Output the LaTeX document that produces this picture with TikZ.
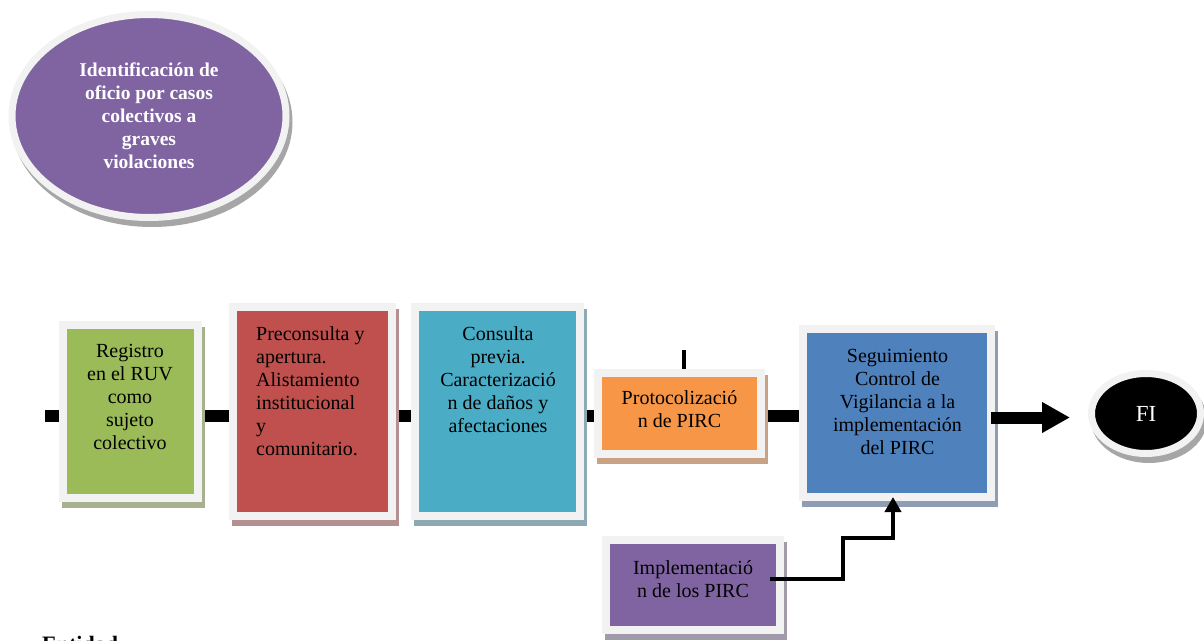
\documentclass[tikz,border=0pt]{standalone}
\usepackage{fontspec}
\setmainfont{Liberation Serif}
\usetikzlibrary{shapes.geometric,arrows.meta,backgrounds,calc}
\definecolor{framec}{HTML}{F2F2F2}
\definecolor{cgreen}{HTML}{9BBB59}\definecolor{sgreen}{HTML}{A7B18F}
\definecolor{cred}{HTML}{C0504D}\definecolor{sred}{HTML}{B59092}
\definecolor{cteal}{HTML}{4BACC6}\definecolor{steal}{HTML}{8DA9B3}
\definecolor{corange}{HTML}{F79646}\definecolor{sorange}{HTML}{C9A283}
\definecolor{cblue}{HTML}{4F81BD}\definecolor{sblue}{HTML}{8F9DB2}
\definecolor{cpurple}{HTML}{8064A2}\definecolor{spurple}{HTML}{A19AAB}
\definecolor{sgray}{HTML}{A6A6A6}
\tikzset{
  box/.style={rectangle, draw=framec, line width=8pt, inner sep=0pt, outer sep=0pt},
  ell/.style={ellipse, draw=framec, line width=7pt, inner sep=0pt, outer sep=0pt},
  shadowed/.style={preaction={fill=#1, draw=#1, transform canvas={shift={(3pt,-6pt)}}}},
  txt/.style={font=\fontsize{20}{23}\selectfont, align=center, inner sep=0pt, anchor=north},
  flow/.style={line width=12pt, draw=black},
  stepline/.style={line width=4pt, draw=black, -{Triangle[length=15pt,width=16pt]}},
}
\begin{document}
\begin{tikzpicture}[x=1pt,y=-1pt]
\useasboundingbox (0,0) rectangle (1204,640);
\clip (0,0) rectangle (1204,640);

% top ellipse
\node[ell, fill=cpurple, shadowed=sgray, minimum width=274pt, minimum height=203pt,
      text=white, align=center, font=\bfseries\fontsize{19.5}{23}\selectfont] (e1) at (149,116)
      {Identificación de\\oficio por casos\\colectivos a\\graves\\violaciones};

% boxes
\node[box, fill=cgreen, shadowed=sgreen, minimum width=135pt, minimum height=173pt] (b1) at (130.5,411.5) {};
\node[txt] (t1) at (130,344) {Registro\\en el RUV\\como\\sujeto\\colectivo};

\node[box, fill=cred, shadowed=sred, minimum width=159pt, minimum height=209pt] (b2) at (312.5,411.5) {};
\node[txt, align=left, anchor=north west] (t2) at (256,326) {Preconsulta y\\apertura.\\Alistamiento\\institucional\\y\\comunitario.};

\node[box, fill=cteal, shadowed=steal, minimum width=165pt, minimum height=209pt] (b3) at (497.5,411.5) {};
\node[txt] (t3) at (498,326) {Consulta\\previa.\\Caracterizació\\n de daños y\\afectaciones};

\node[box, fill=corange, shadowed=sorange, minimum width=163pt, minimum height=81pt] (b4) at (679.5,413.5) {};
\node[txt] (t4) at (679.5,390) {Protocolizació\\n de PIRC};

\node[box, fill=cblue, shadowed=sblue, minimum width=188pt, minimum height=168pt] (b5) at (897,413) {};
\node[txt] (t5) at (897.5,349) {Seguimiento\\Control de\\Vigilancia a la\\implementación\\del PIRC};

\node[box, fill=cpurple, shadowed=spurple, minimum width=174pt, minimum height=90pt] (b6) at (693,585) {};
\node[txt] (t6) at (693,560) {Implementació\\n de los PIRC};

% end ellipse
\node[ell, fill=black, shadowed=sgray, minimum width=109pt, minimum height=80pt,
      text=white, font=\fontsize{23}{26}\selectfont] (fi) at (1146,413.5) {FI};

% bottom cut text
\node[font=\bfseries\fontsize{22}{26}\selectfont, anchor=north west, inner sep=0pt] (ent) at (42,636) {Entidad};

% connectors on background
\coordinate (L) at (0,416);
\coordinate (s0) at (45,416);
\coordinate (tk) at (683.5,350);
\begin{pgfonlayer}{background}
\fill[white] (0,0) rectangle (1204,640);
\draw[flow] (s0) -- (b1.west |- L);
\draw[flow] (b1.east |- L) -- (b2.west |- L);
\draw[flow] (b2.east |- L) -- (b3.west |- L);
\draw[flow] (b3.east |- L) -- (b4.west |- L);
\draw[flow] (b4.east |- L) -- (b5.west |- L);
\draw[line width=4pt] (tk) -- (tk |- b4.north);
\end{pgfonlayer}

% arrow to FI
\coordinate (A) at (0,417.5);
\draw[flow, -{Triangle[length=28pt,width=29pt]}] (b5.east |- A) -- ($(fi.west |- A)+(-21.5,0)$);

% step arrow from implementation to follow-up
\coordinate (k1) at (843,579);
\coordinate (k2) at (893,538);
\draw[stepline] ($(b6.east |- k1)+(-10,0)$) -- (k1) -- (k1 |- k2) -- (k2) -- (k2 |- b5.south);
\end{tikzpicture}
\end{document}
